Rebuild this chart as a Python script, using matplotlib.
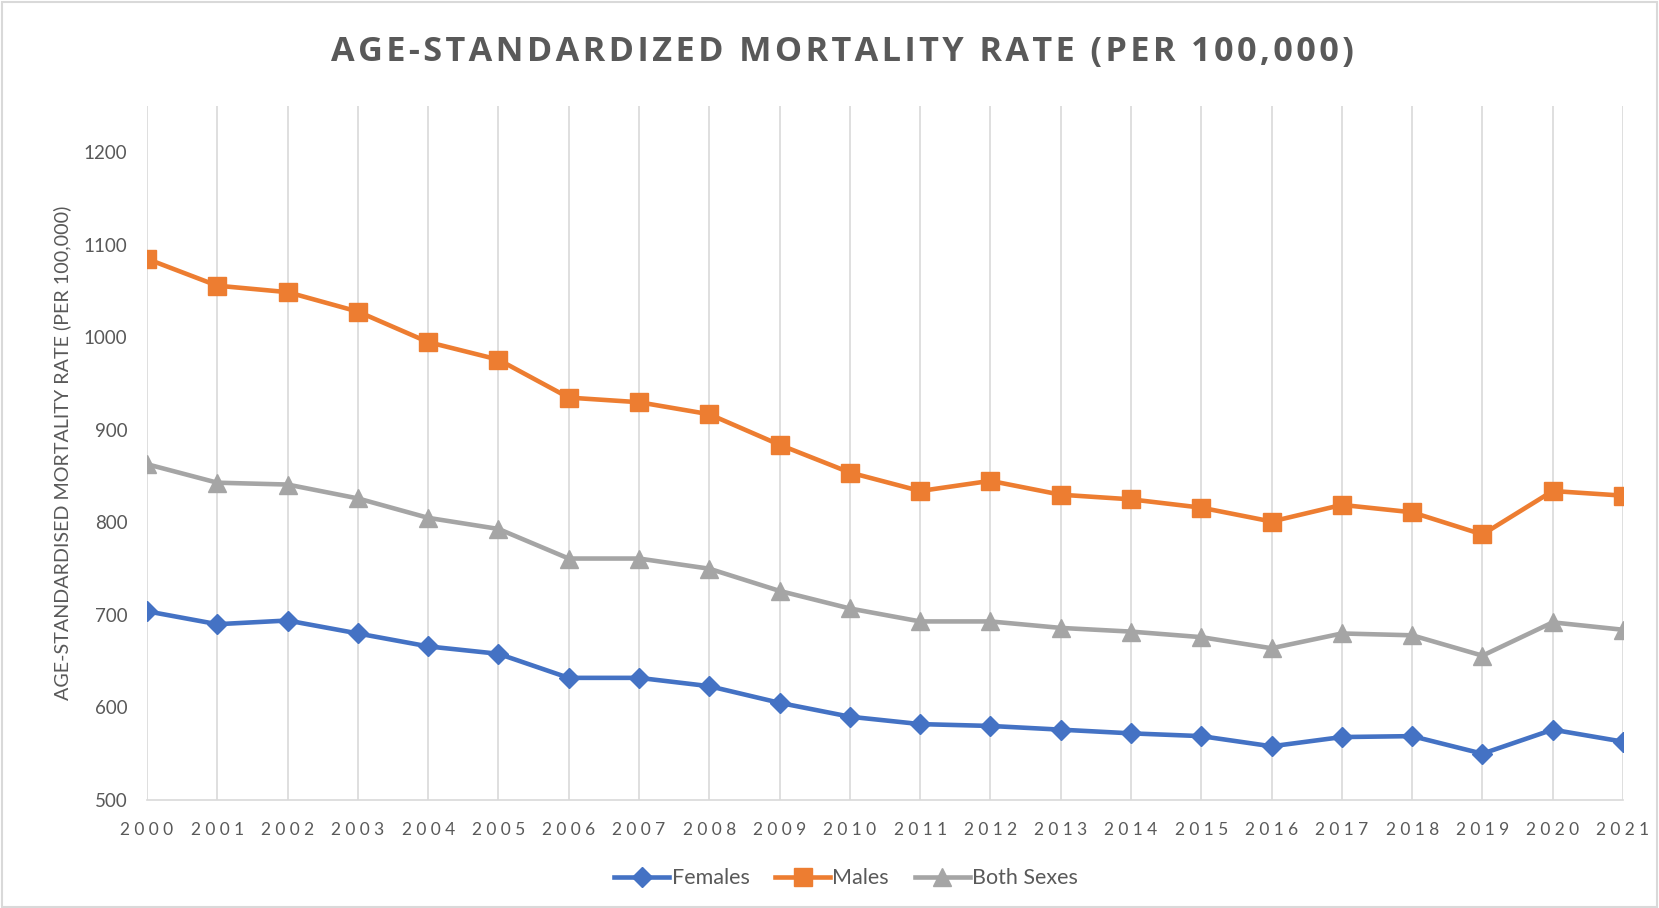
import matplotlib
matplotlib.use("Agg")
import matplotlib.pyplot as plt
from matplotlib.patches import Rectangle

# data
years = list(range(2000, 2022))
females = [704, 690, 694, 680, 666, 658, 632, 632, 623, 605, 590, 582, 580, 576,
           572, 569, 558, 568, 569, 550, 576, 563]
males = [1085, 1056, 1049, 1028, 995, 976, 935, 930, 917, 884, 854, 834, 845, 830,
         825, 816, 801, 819, 811, 787, 834, 829]
both = [863, 843, 841, 826, 805, 793, 761, 761, 750, 726, 707, 693, 693, 686,
        682, 676, 664, 680, 678, 656, 692, 684]
yticks = [500, 600, 700, 800, 900, 1000, 1100, 1200]

TXT = "#595959"
FONT = ["Lato", "DejaVu Sans"]

def spaced(s, sp):
    # fake letter spacing like the Excel chart
    return sp.join(s)

fig = plt.figure(figsize=(16.59, 9.08), dpi=100)
ax = fig.add_axes([0.0886, 0.119, 0.8897, 0.764])

ax.plot(years, females, color="#4472C4", lw=3.3, marker="D", ms=10.5, label="Females")
ax.plot(years, males, color="#ED7D31", lw=3.3, marker="s", ms=12.5, label="Males")
ax.plot(years, both, color="#A5A5A5", lw=3.3, marker="^", ms=12.5, label="Both Sexes")

ax.set_xlim(2000, 2021)
ax.set_ylim(500, 1250)
ax.set_yticks(yticks)
ax.set_yticklabels([str(v) for v in yticks], family=FONT, fontsize=13.5, color=TXT)
ax.set_xticks(years)
ax.set_xticklabels([spaced(str(y), "\u2005") for y in years], family=FONT,
                   fontsize=12.5, color=TXT)
ax.tick_params(axis="x", length=0, pad=16)
ax.tick_params(axis="y", length=0, pad=14)

ax.grid(axis="x", color="#d9d9d9", lw=1.2)
ax.set_axisbelow(True)
for s in ["top", "right", "left"]:
    ax.spines[s].set_visible(False)
ax.spines["bottom"].set_color("#d9d9d9")
ax.spines["bottom"].set_linewidth(1.2)

ax.set_ylabel("AGE-STANDARDISED MORTALITY RATE (PER 100,000)", family=FONT,
              fontsize=14.2, color=TXT, labelpad=9)

fig.text(0.508, 0.943, spaced("AGE-STANDARDIZED MORTALITY RATE (PER 100,000)", "\u200a"),
         family=["Open Sans", "DejaVu Sans"], fontweight="bold", fontsize=24.7,
         color=TXT, ha="center", va="center")

leg = fig.legend(loc="center", bbox_to_anchor=(0.51, 0.033), ncol=3, frameon=False,
                 prop={"family": FONT, "size": 15.5}, handlelength=2.55,
                 columnspacing=1.2, handletextpad=0.1)
for t in leg.get_texts():
    t.set_color(TXT)

fig.patches.append(Rectangle((0.001, 0.001), 0.998, 0.997, transform=fig.transFigure,
                             fill=False, edgecolor="#d9d9d9", lw=1.5))

fig.savefig("out.png", dpi=100)
